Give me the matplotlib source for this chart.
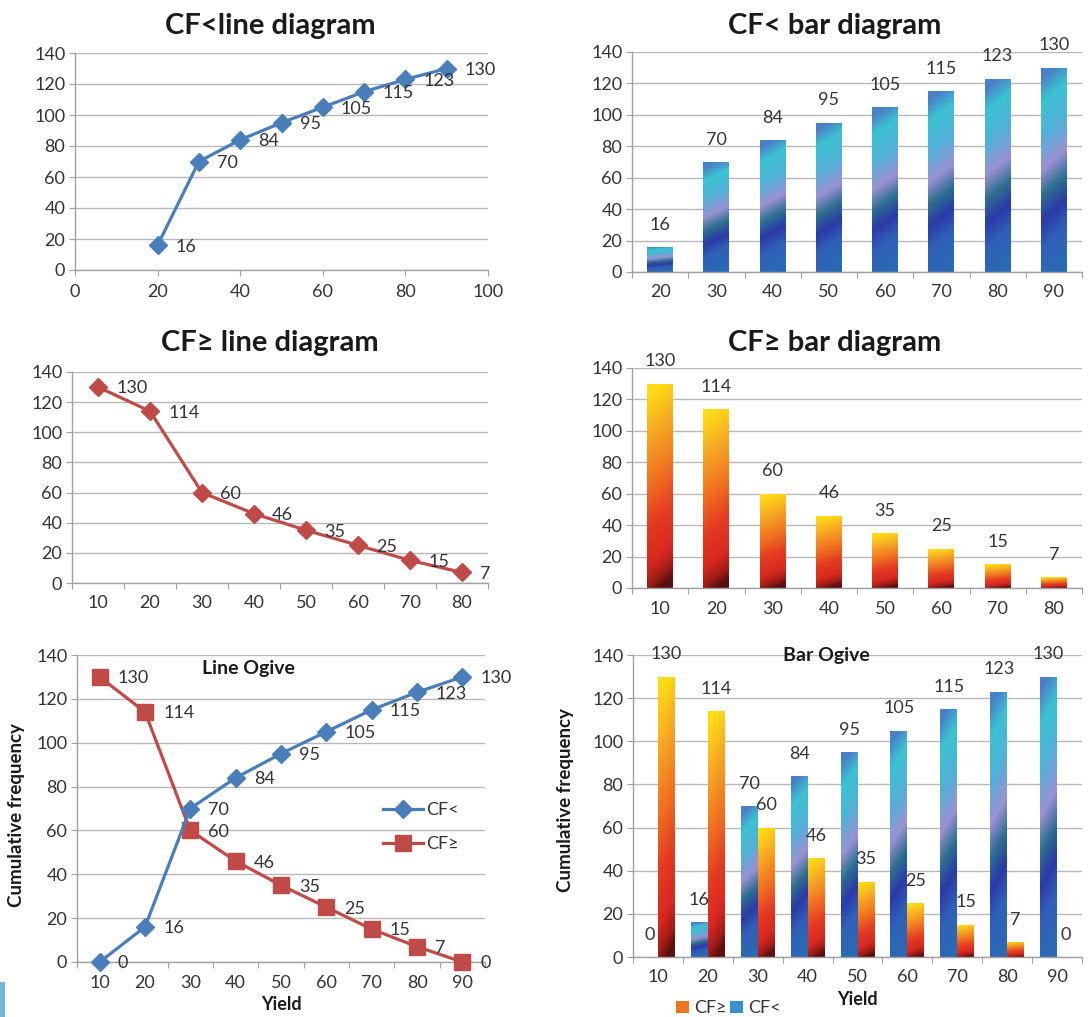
import numpy as np
import matplotlib
matplotlib.use("Agg")
import matplotlib.pyplot as plt
from matplotlib.colors import LinearSegmentedColormap
from matplotlib.patches import Patch, Rectangle

plt.rcParams['font.family'] = ['Lato', 'DejaVu Sans']

# ---------------- data ----------------
yield_lt = [20, 30, 40, 50, 60, 70, 80, 90]
cf_lt = [16, 70, 84, 95, 105, 115, 123, 130]
yield_ge = [10, 20, 30, 40, 50, 60, 70, 80]
cf_ge = [130, 114, 60, 46, 35, 25, 15, 7]
ogive_yield = [10, 20, 30, 40, 50, 60, 70, 80, 90]
ogive_lt = [0, 16, 70, 84, 95, 105, 115, 123, 130]
ogive_ge = [130, 114, 60, 46, 35, 25, 15, 7, 0]
y_ticks = [0, 20, 40, 60, 80, 100, 120, 140]
line_x_ticks = [0, 20, 40, 60, 80, 100]

# ---------------- style ----------------
W, H = 1090, 1017
BLUE = '#4A7EBB'
RED = '#BE4B48'
TXT = '#333333'
GRID = '#b8b8b8'
SPINE = '#a0a0a0'
FS = 13

blue_cmap = LinearSegmentedColormap.from_list('blue_grad', [
    (0.0, '#2a6ab4'), (0.17, '#3060b8'), (0.30, '#2b3aa8'),
    (0.42, '#2d6e90'), (0.55, '#9a92d4'), (0.71, '#52b0d8'),
    (0.88, '#3cc2d2'), (1.0, '#4a80c8')])
orange_cmap = LinearSegmentedColormap.from_list('orange_grad', [
    (0.0, '#5a1010'), (0.06, '#a01c16'), (0.16, '#d82820'), (0.35, '#e43c22'),
    (0.55, '#f07020'), (0.78, '#f6a624'), (1.0, '#ffdc14')])

fig = plt.figure(figsize=(W / 100, H / 100), dpi=100)
fig.patch.set_facecolor('white')


def add_ax(l, t, r, b):
    return fig.add_axes([l / W, 1 - b / H, (r - l) / W, (b - t) / H])


def style_ax(ax):
    for s in ['top', 'right']:
        ax.spines[s].set_visible(False)
    for s in ['left', 'bottom']:
        ax.spines[s].set_color(SPINE)
        ax.spines[s].set_linewidth(1)
    ax.set_ylim(0, 140)
    ax.set_yticks(y_ticks)
    ax.yaxis.grid(True, color=GRID, lw=1)
    ax.set_axisbelow(True)
    ax.tick_params(axis='y', length=4, color=SPINE, pad=3, labelsize=FS, labelcolor=TXT)
    ax.tick_params(axis='x', length=4, color=SPINE, pad=6, labelsize=FS, labelcolor=TXT)


def category_axis(ax, labels):
    n = len(labels)
    ax.set_xlim(-0.5, n - 0.5)
    ax.set_xticks(np.arange(-0.5, n, 1.0))
    ax.set_xticklabels([])
    ax.set_xticks(np.arange(n), minor=True)
    ax.set_xticklabels([str(v) for v in labels], minor=True)
    ax.tick_params(axis='x', which='minor', length=0, pad=9, labelsize=FS, labelcolor=TXT)


def gradient_bars(ax, bars, cmap, tilt=0.1):
    for b in bars:
        x0, y0 = b.get_x(), b.get_y()
        w, h = b.get_width(), b.get_height()
        if h <= 0:
            continue
        grad = np.linspace(0, 1, 256)[:, None] - tilt * np.linspace(-0.5, 0.5, 16)[None, :]
        im = ax.imshow(grad, extent=[x0, x0 + w, y0, y0 + h], origin='lower',
                       cmap=cmap, vmin=0, vmax=1, aspect='auto',
                       interpolation='bilinear', zorder=2)
        im.set_clip_path(b)
        b.set_facecolor('none')
        b.set_edgecolor('none')


def bar_labels(ax, xs, vals):
    for x, v in zip(xs, vals):
        ax.annotate(str(v), (x, v), xytext=(0, 16), textcoords='offset points',
                    ha='center', va='center', fontsize=FS, color=TXT, zorder=5)


def line_labels(ax, xs, vals, dx=13, dy=-1):
    for x, v in zip(xs, vals):
        ax.annotate(str(v), (x, v), xytext=(dx, dy), textcoords='offset points',
                    ha='left', va='center', fontsize=FS, color=TXT, zorder=5,
                    annotation_clip=False)


def title(xpix, ypix, s, size=21):
    fig.text(xpix / W, 1 - ypix / H, s, ha='center', va='baseline',
             fontsize=size, fontweight='bold', color='#1a1a1a')


# ---------------- panel 1: CF< line ----------------
ax1 = add_ax(75, 53, 488, 270)
style_ax(ax1)
ax1.plot(yield_lt, cf_lt, color=BLUE, lw=2.3, marker='D', ms=9, zorder=3, clip_on=False)
ax1.set_xlim(0, 100)
ax1.set_xticks(line_x_ticks)
line_labels(ax1, yield_lt, cf_lt)
title(270, 34, 'CF<line diagram')

# ---------------- panel 2: CF< bar ----------------
ax2 = add_ax(632, 52, 1082, 272)
style_ax(ax2)
x2 = np.arange(len(yield_lt))
b2 = ax2.bar(x2, cf_lt, width=0.46, zorder=2)
gradient_bars(ax2, b2, blue_cmap)
category_axis(ax2, yield_lt)
ax2.set_ylim(0, 140)
bar_labels(ax2, x2, cf_lt)
title(835, 34, 'CF< bar diagram')

# ---------------- panel 3: CF>= line ----------------
ax3 = add_ax(72, 372, 488, 583)
style_ax(ax3)
x3 = np.arange(len(yield_ge))
ax3.plot(x3, cf_ge, color=RED, lw=2.3, marker='D', ms=9, zorder=3, clip_on=False)
category_axis(ax3, yield_ge)
line_labels(ax3, x3, cf_ge)
title(270, 351, 'CF≥ line diagram')

# ---------------- panel 4: CF>= bar ----------------
ax4 = add_ax(632, 368, 1082, 588)
style_ax(ax4)
x4 = np.arange(len(yield_ge))
b4 = ax4.bar(x4, cf_ge, width=0.46, zorder=2)
gradient_bars(ax4, b4, orange_cmap)
category_axis(ax4, yield_ge)
ax4.set_ylim(0, 140)
bar_labels(ax4, x4, cf_ge)
title(835, 351, 'CF≥ bar diagram')

# ---------------- panel 5: Line ogive ----------------
ax5 = add_ax(77, 655, 485, 962)
style_ax(ax5)
x5 = np.arange(len(ogive_yield))
ax5.plot(x5, ogive_lt, color=BLUE, lw=2.3, marker='D', ms=9, zorder=4,
         clip_on=False, label='CF<')
ax5.plot(x5, ogive_ge, color=RED, lw=2.3, marker='s', ms=11, zorder=3,
         clip_on=False, label='CF≥')
category_axis(ax5, ogive_yield)
line_labels(ax5, x5, ogive_lt)
line_labels(ax5, x5, ogive_ge)
ax5.text(0.42, 0.955, 'Line Ogive', transform=ax5.transAxes, ha='center', va='center',
         fontsize=14, fontweight='bold', color='#1a1a1a')
ax5.legend(loc='center left', bbox_to_anchor=(0.71, 0.44), frameon=False,
           fontsize=FS, handlelength=2.2, handletextpad=0.2, labelspacing=1.0,
           labelcolor=TXT)
ax5.set_xlabel('Yield', fontsize=13, fontweight='bold', color='#1a1a1a', labelpad=4)
fig.text(17 / W, 1 - 815 / H, 'Cumulative frequency', rotation=90, ha='center',
         va='center', fontsize=13.5, fontweight='bold', color='#1a1a1a')

# ---------------- panel 6: Bar ogive ----------------
ax6 = add_ax(633, 655, 1082, 957)
style_ax(ax6)
x6 = np.arange(len(ogive_yield))
bw = 0.34
b6a = ax6.bar(x6 - bw / 2, ogive_lt, width=bw, zorder=2)
b6b = ax6.bar(x6 + bw / 2, ogive_ge, width=bw, zorder=2)
gradient_bars(ax6, b6a, blue_cmap)
gradient_bars(ax6, b6b, orange_cmap)
category_axis(ax6, ogive_yield)
ax6.set_ylim(0, 140)
bar_labels(ax6, x6 - bw / 2, ogive_lt)
bar_labels(ax6, x6 + bw / 2, ogive_ge)
ax6.text(0.43, 1.0, 'Bar Ogive', transform=ax6.transAxes, ha='center', va='center',
         fontsize=14, fontweight='bold', color='#1a1a1a')
ax6.set_xlabel('Yield', fontsize=13, fontweight='bold', color='#1a1a1a', labelpad=4)
handles = [Patch(facecolor='#f0761e', label='CF≥'), Patch(facecolor='#3d8fd0', label='CF<')]
ax6.legend(handles=handles, loc='center left', bbox_to_anchor=(0.08, -0.17), ncol=2,
           frameon=False, fontsize=FS, handlelength=0.7, handleheight=0.7,
           handletextpad=0.3, columnspacing=0.2, labelcolor=TXT, borderaxespad=0)
fig.text(566 / W, 1 - 800 / H, 'Cumulative frequency', rotation=90, ha='center',
         va='center', fontsize=13.5, fontweight='bold', color='#1a1a1a')

# small blue edge mark at bottom-left
fig.patches.append(Rectangle((0, 0), 5 / W, 35 / H, transform=fig.transFigure,
                             facecolor='#70b8dc', edgecolor='none'))

fig.savefig('out.png', dpi=100)
